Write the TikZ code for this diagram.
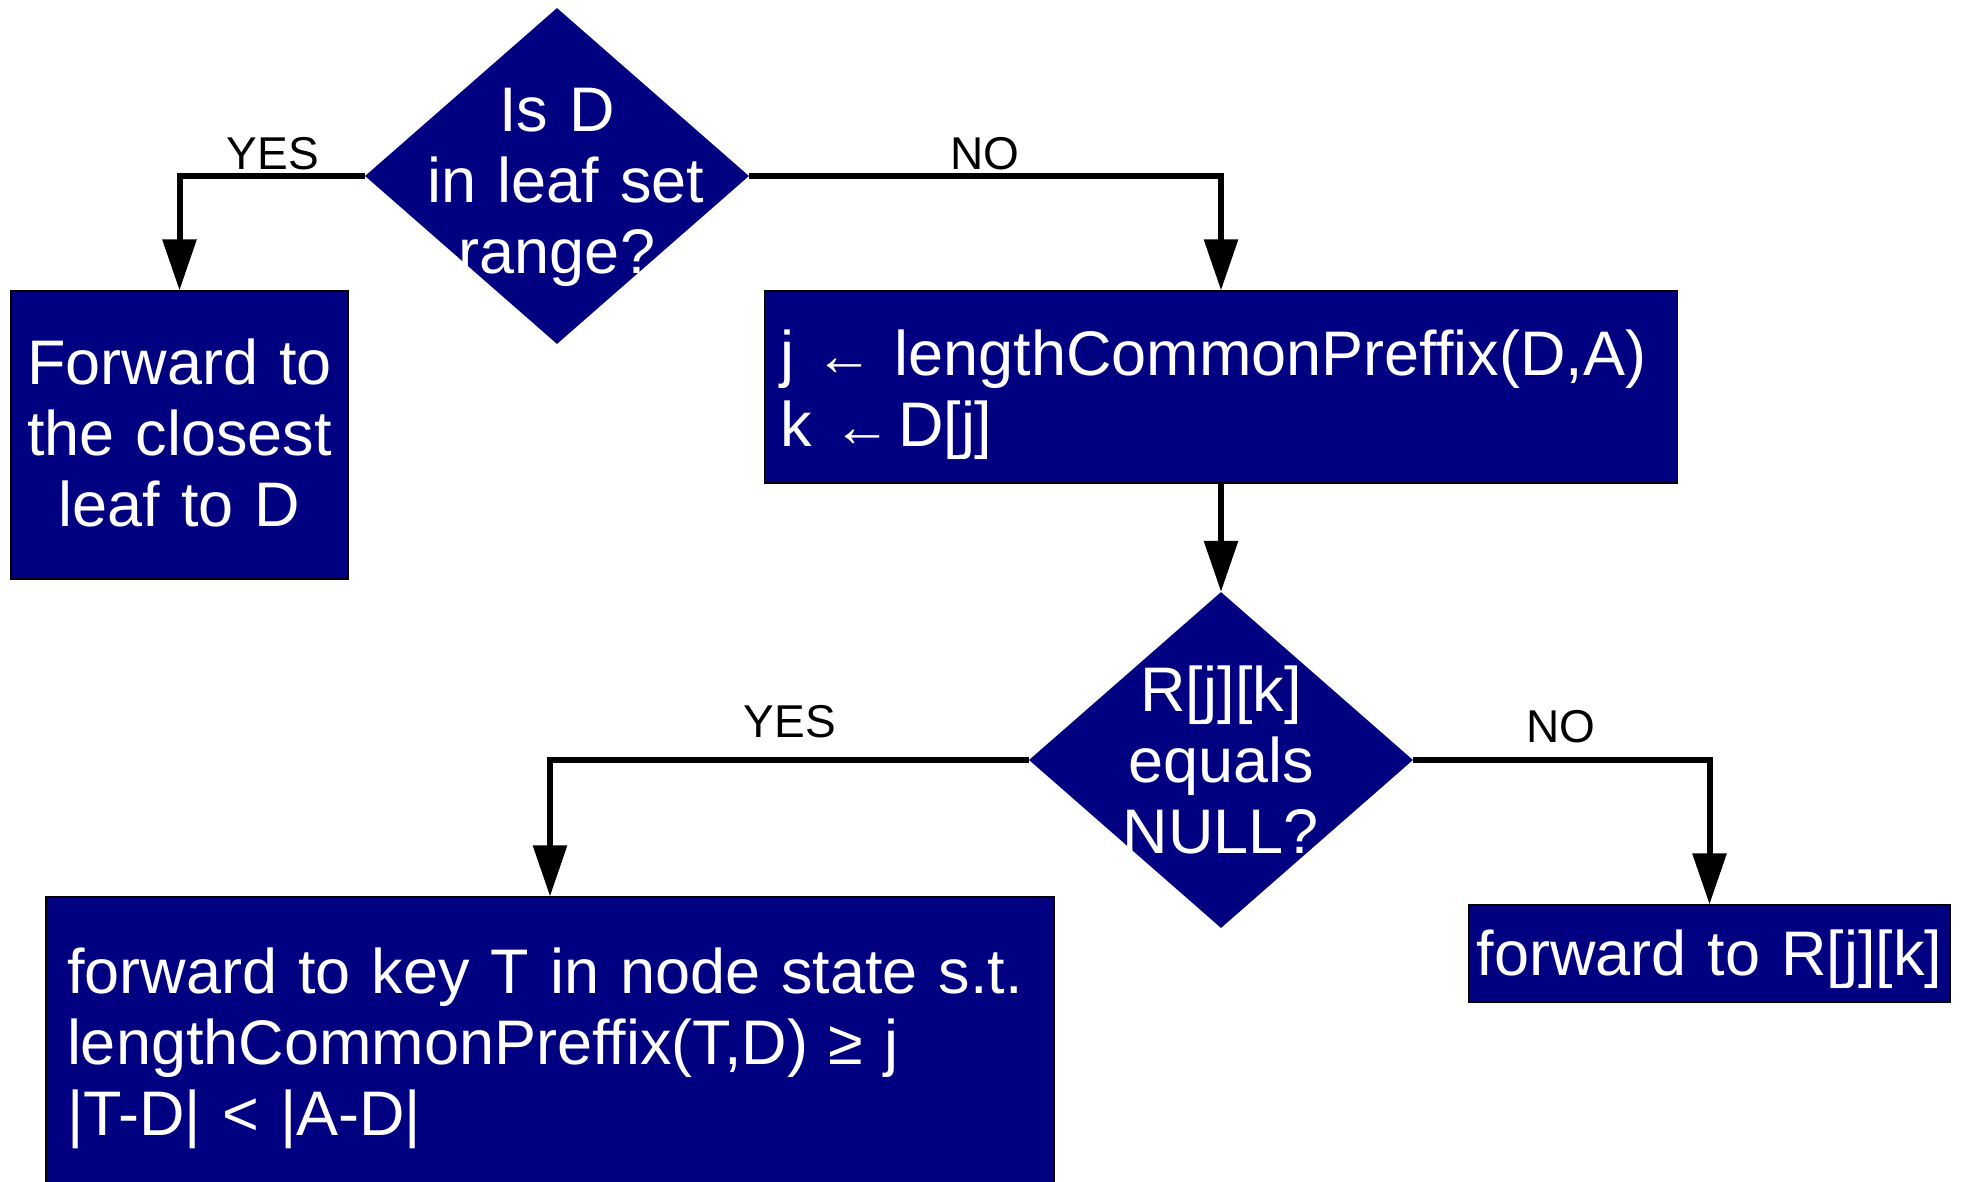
\documentclass[tikz,border=0pt]{standalone}
\usepackage{fontspec}
\setmainfont{Liberation Sans}
\usetikzlibrary{shapes.geometric,arrows.meta}
\definecolor{navyfill}{HTML}{000080}
\newcommand\boxfont{\fontsize{63}{71}\selectfont}
\newcommand\answerfont{\fontsize{46}{52}\selectfont}
\newcommand\larr{{\fontsize{58}{58}\selectfont ←}}
\tikzset{
  flowbox/.style={rectangle, draw=black, line width=1.2pt, fill=navyfill, text=white, font=\boxfont, inner ysep=0pt},
  decision/.style={diamond, fill=navyfill, draw=none, minimum width=384pt, minimum height=336pt, inner sep=0pt},
  dtext/.style={text=white, font=\boxfont, align=center, text width=330pt, inner sep=0pt},
  flow/.style={line width=6pt, -{Triangle[length=51pt,width=33pt]}},
  answer/.style={font=\answerfont, anchor=base, inner sep=0pt},
}
\begin{document}
\begin{tikzpicture}[x=1pt,y=-1pt]
\clip (0,0) rectangle (1964,1182);

% first test: is the key inside the leaf set?
\node[decision] (q1) at (557,176) {};
\node[dtext, text height=46pt, text depth=134pt] (q1t) at (q1.center) {Is D\\\hspace*{18pt}in leaf set\\range?};

\node[flowbox, minimum width=337pt, minimum height=288pt, text width=320pt, align=center, inner xsep=0pt, text height=46pt, text depth=148pt] (leaf) at (179.5,435) {Forward to\\the closest\\leaf to D};

\node[flowbox, minimum width=913pt, minimum height=192pt, text width=881pt, inner xsep=16pt, align=left, text height=46pt, text depth=70pt] (prefix) at (1221,387) {j \larr\ lengthCommonPreffix(D,A)\\k \larr\hspace{7pt}D[j]};

% second test: routing table entry
\node[decision] (q2) at (1221,760) {};
\node[dtext, text height=46pt, text depth=144pt] (q2t) at (q2.center) {R[j][k]\\equals\\NULL?};

\node[flowbox, minimum width=1008pt, minimum height=316pt, text width=966pt, inner xsep=21pt, align=left, text height=46pt, text depth=170pt] (closer) at (550,1055) {forward to key T in node state s.t.\\lengthCommonPreffix(T,D) ≥ j\\|T-D| < |A-D|};

\node[flowbox, minimum width=481pt, minimum height=97pt, text width=470pt, align=center, inner xsep=0pt, text height=46pt, text depth=3pt] (route) at (1709.5,953.5) {forward to R[j][k]};

% connectors
\draw[flow] (q1.west) -| (leaf.north);
\draw[flow] (q1.east) -| (prefix.north);
\draw[flow] (prefix.south) -- (q2.north);
\draw[flow] (q2.west) -| (closer.north);
\draw[flow] (q2.east) -| (route.north);

% branch labels
\node[answer] (yes1) at (273,170) {YES};
\node[answer] (no1) at (985,170) {NO};
\node[answer] (yes2) at (790,737) {YES};
\node[answer] (no2) at (1561,742) {NO};
\end{tikzpicture}
\end{document}
